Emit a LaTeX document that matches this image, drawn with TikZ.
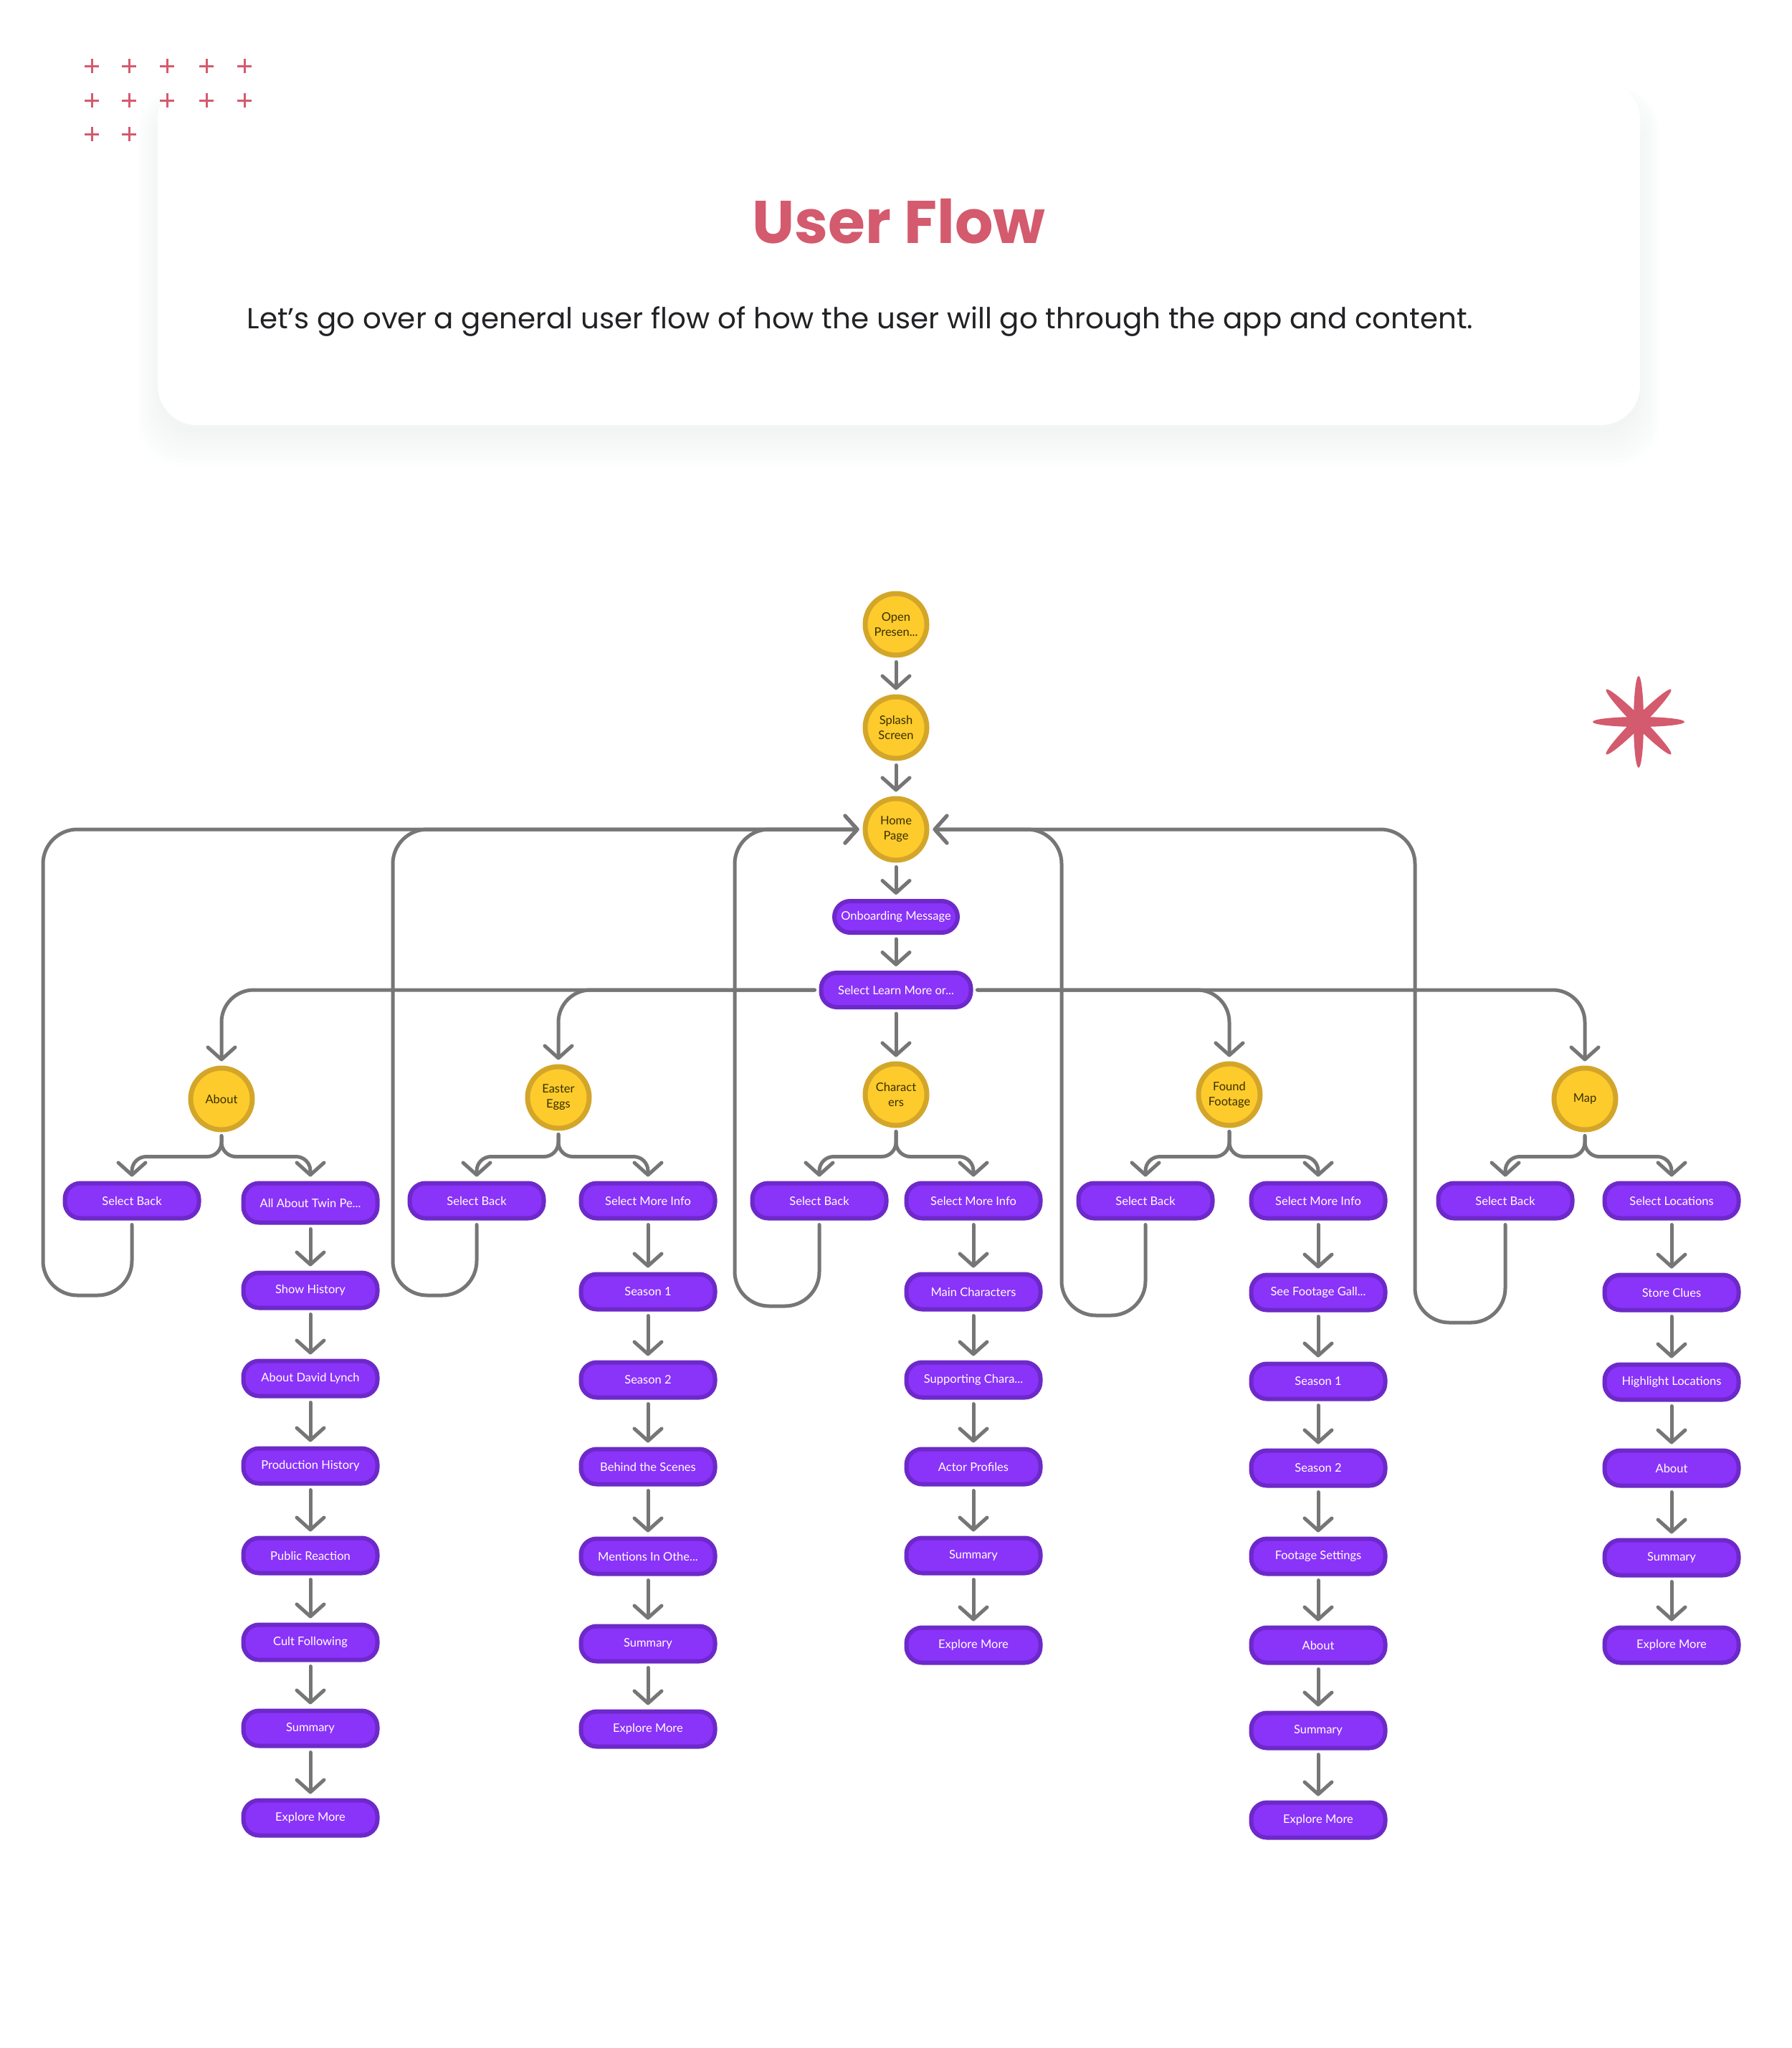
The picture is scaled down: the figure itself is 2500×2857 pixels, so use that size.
\documentclass[tikz,border=0pt]{standalone}
\usepackage{fontspec}
\setmainfont{Lato}
\newfontfamily\popfont{Poppins}
\usetikzlibrary{arrows.meta,calc}
\definecolor{ln}{HTML}{767676}
\definecolor{pfill}{HTML}{8A33F9}
\definecolor{pdraw}{HTML}{6D29C9}
\definecolor{yfill}{HTML}{FDCB2C}
\definecolor{ydraw}{HTML}{D3A62A}
\definecolor{ytext}{HTML}{3A3000}
\definecolor{pink}{HTML}{D45A6E}
\definecolor{subc}{HTML}{222226}
\definecolor{shadowc}{HTML}{E9ECF5}
\begin{document}
\begin{tikzpicture}[x=1pt,y=-1pt,
  boxn/.style={draw=pdraw, fill=pfill, line width=6pt, rounded corners=22pt, minimum width=187pt, minimum height=49pt, inner sep=0pt, text=white, font=\fontsize{16.5}{19}\selectfont},
  circn/.style={circle, draw=ydraw, fill=yfill, line width=7pt, minimum size=86pt, inner sep=0pt, text=ytext, align=center, font=\fontsize{16.5}{21}\selectfont},
  arr/.style={draw=ln, line width=5pt, line cap=round, line join=round, -{Straight Barb[length=17pt,width=38pt,round]}},
  plusm/.style={draw=pink, line width=3pt},
]
\fill[white] (0,0) rectangle (2500,2857);
\useasboundingbox (0,0) rectangle (2500,2857);

% card with soft shadow
\foreach \i in {0,...,9} {
  \fill[shadowc, fill opacity=0.05, rounded corners=60pt] (220-3*\i,140-2*\i) rectangle (2288+3*\i,605+5*\i);
}
\fill[white, rounded corners=55pt] (220,112) rectangle (2288,593);
\node[text=pink, font=\popfont\bfseries\fontsize{84}{100}\selectfont, anchor=base] (title) at (1254,339) {User Flow};
\node[text=subc, font=\popfont\fontsize{40.4}{50}\selectfont, anchor=base] (subtitle) at (1200,458) {Let’s go over a general user flow of how the user will go through the app and content.};

% decorative pluses
\foreach \x in {128,180,233,288,341} \foreach \y in {92,140} {
  \draw[plusm] (\x-10,\y) -- (\x+10,\y) (\x,\y-10) -- (\x,\y+10);
}
\foreach \x in {128,180} {
  \draw[plusm] (\x-10,187) -- (\x+10,187) (\x,177) -- (\x,197);
}

% star
\foreach \a in {0,45,90,135} {
  \fill[pink, rotate around={\a:(2286,1007)}] (2286,1007) ellipse [x radius=64, y radius=7];
}

% top spine
\node[circn] (open) at (1250,871) {Open\\Presen...};
\node[circn] (splash) at (1250,1015) {Splash\\Screen};
\node[circn] (home) at (1250,1157) {Home\\Page};
\node[boxn, minimum width=172pt, minimum height=44pt] (onb) at (1250,1279) {Onboarding Message};
\node[boxn, minimum width=209pt, minimum height=48pt] (lm) at (1250,1381) {Select Learn More or...};

% categories
\node[circn] (about) at (309,1533) {About};
\node[circn] (easter) at (779,1531) {Easter\\Eggs};
\node[circn] (chars) at (1250,1527) {Charact\\ers};
\node[circn] (found) at (1715,1527) {Found\\Footage};
\node[circn] (map) at (2211,1533) {Map};

% first row
\node[boxn] (sbA) at (184,1675) {Select Back};
\node[boxn, minimum height=55pt] (a1) at (433,1678) {All About Twin Pe...};
\node[boxn] (sbE) at (665,1675) {Select Back};
\node[boxn] (e1) at (904,1675) {Select More Info};
\node[boxn] (sbC) at (1143,1675) {Select Back};
\node[boxn] (c1) at (1358,1675) {Select More Info};
\node[boxn] (sbF) at (1598,1675) {Select Back};
\node[boxn] (f1) at (1839,1675) {Select More Info};
\node[boxn] (sbM) at (2100,1675) {Select Back};
\node[boxn] (m1) at (2332,1675) {Select Locations};

% About column
\node[boxn] (a2) at (433,1800) {Show History};
\node[boxn] (a3) at (433,1923) {About David Lynch};
\node[boxn] (a4) at (433,2045) {Production History};
\node[boxn] (a5) at (433,2170) {Public Reaction};
\node[boxn] (a6) at (433,2291) {Cult Following};
\node[boxn] (a7) at (433,2411) {Summary};
\node[boxn] (a8) at (433,2536) {Explore More};

% Easter Eggs column
\node[boxn] (e2) at (904,1802) {Season 1};
\node[boxn] (e3) at (904,1925) {Season 2};
\node[boxn] (e4) at (904,2046) {Behind the Scenes};
\node[boxn] (e5) at (904,2171) {Mentions In Othe...};
\node[boxn] (e6) at (904,2293) {Summary};
\node[boxn] (e7) at (904,2412) {Explore More};

% Characters column
\node[boxn] (c2) at (1358,1802) {Main Characters};
\node[boxn] (c3) at (1358,1925) {Supporting Chara...};
\node[boxn] (c4) at (1358,2046) {Actor Profiles};
\node[boxn] (c5) at (1358,2170) {Summary};
\node[boxn] (c6) at (1358,2295) {Explore More};

% Found Footage column
\node[boxn] (f2) at (1839,1803) {See Footage Gall...};
\node[boxn] (f3) at (1839,1927) {Season 1};
\node[boxn] (f4) at (1839,2048) {Season 2};
\node[boxn] (f5) at (1839,2171) {Footage Settings};
\node[boxn] (f6) at (1839,2295) {About};
\node[boxn] (f7) at (1839,2414) {Summary};
\node[boxn] (f8) at (1839,2539) {Explore More};

% Map column
\node[boxn] (m2) at (2332,1803) {Store Clues};
\node[boxn] (m3) at (2332,1928) {Highlight Locations};
\node[boxn] (m4) at (2332,2048) {About};
\node[boxn] (m5) at (2332,2173) {Summary};
\node[boxn] (m6) at (2332,2295) {Explore More};

% vertical chains
\foreach \u/\v in {open/splash, splash/home, home/onb, onb/lm, lm/chars,
  a1/a2, a2/a3, a3/a4, a4/a5, a5/a6, a6/a7, a7/a8,
  e1/e2, e2/e3, e3/e4, e4/e5, e5/e6, e6/e7,
  c1/c2, c2/c3, c3/c4, c4/c5, c5/c6,
  f1/f2, f2/f3, f3/f4, f4/f5, f5/f6, f6/f7, f7/f8,
  m1/m2, m2/m3, m3/m4, m4/m5, m5/m6} {
  \draw[arr] ([yshift=-6pt]\u.south) -- ([yshift=6pt]\v.north);
}

% branches from Select Learn More
\draw[arr, rounded corners=45pt] ([xshift=-6pt]lm.west) -| ([yshift=6pt]about.north);
\draw[arr, rounded corners=45pt] ([xshift=-6pt]lm.west) -| ([yshift=6pt]easter.north);
\draw[arr, rounded corners=45pt] ([xshift=6pt]lm.east) -| ([yshift=6pt]found.north);
\draw[arr, rounded corners=45pt] ([xshift=6pt]lm.east) -| ([yshift=6pt]map.north);

% branches from categories to their two boxes
\foreach \c/\l/\r in {about/sbA/a1, easter/sbE/e1, chars/sbC/c1, found/sbF/f1, map/sbM/m1} {
  \draw[arr, rounded corners=20pt] ([yshift=-5pt]\c.south) |- ([yshift=34pt]\l.north) -- ([yshift=6pt]\l.north);
  \draw[arr, rounded corners=20pt] ([yshift=-5pt]\c.south) |- ([yshift=34pt]\r.north) -- ([yshift=6pt]\r.north);
}

% back loops to Home Page
\coordinate (cA) at (60,1807);
\coordinate (cE) at (548,1807);
\coordinate (cC) at (1025,1822);
\coordinate (cF) at (1481,1835);
\coordinate (cM) at (1974,1845);
\draw[arr, rounded corners=48pt] ([yshift=-6pt]sbA.south) |- (cA) |- ([xshift=-5pt]home.west);
\draw[arr, rounded corners=48pt] ([yshift=-6pt]sbE.south) |- (cE) |- ([xshift=-5pt]home.west);
\draw[arr, rounded corners=48pt] ([yshift=-6pt]sbC.south) |- (cC) |- ([xshift=-5pt]home.west);
\draw[arr, rounded corners=48pt] ([yshift=-6pt]sbF.south) |- (cF) |- ([xshift=5pt]home.east);
\draw[arr, rounded corners=48pt] ([yshift=-6pt]sbM.south) |- (cM) |- ([xshift=5pt]home.east);
\end{tikzpicture}
\end{document}
